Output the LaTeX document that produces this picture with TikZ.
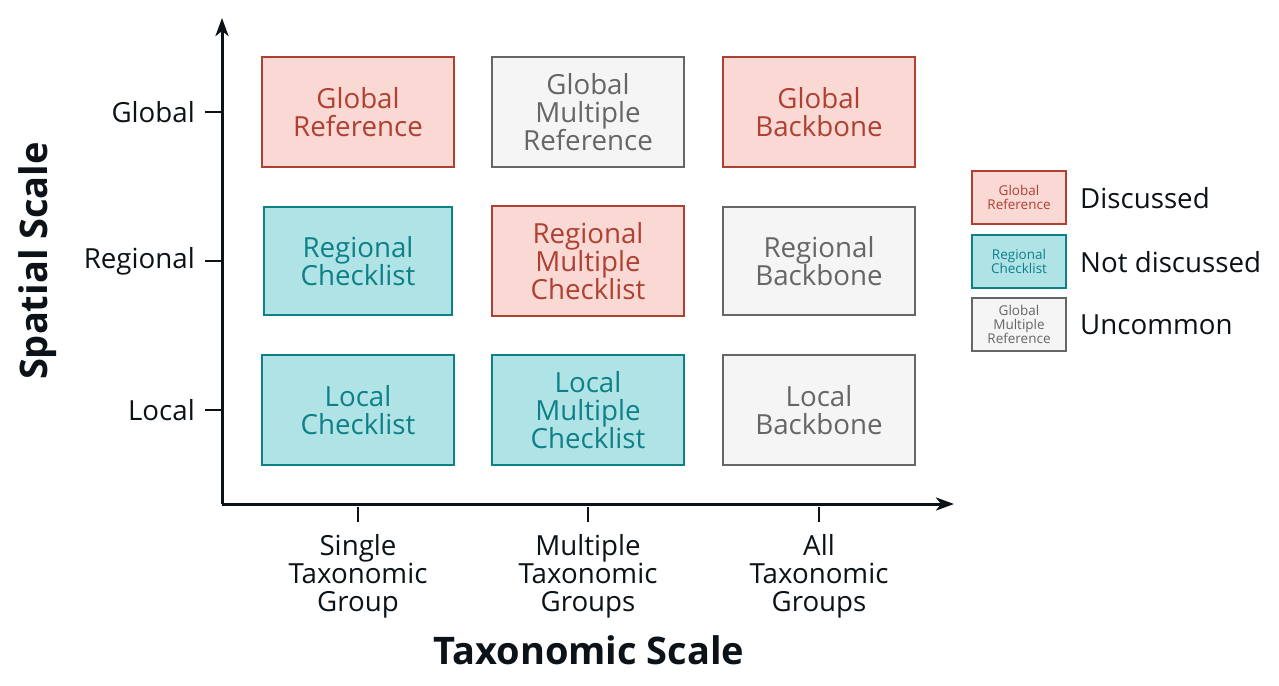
\documentclass[tikz,border=0pt]{standalone}
\usepackage{fontspec}
\setmainfont{Open Sans}
\usetikzlibrary{arrows.meta}
\definecolor{redfill}{HTML}{FAD9D5}
\definecolor{redline}{HTML}{AE4132}
\definecolor{tealfill}{HTML}{B0E3E6}
\definecolor{tealline}{HTML}{0E8088}
\definecolor{grayfill}{HTML}{F5F5F5}
\definecolor{grayline}{HTML}{666666}
\definecolor{ink}{HTML}{0B1218}
\tikzset{
  cell/.style={draw, line width=2pt, minimum width=192pt, minimum height=110pt, align=center,
    font=\fontsize{27.7}{28}\selectfont, inner sep=0pt},
  disc/.style={cell, fill=redfill, draw=redline, text=redline},
  notdisc/.style={cell, fill=tealfill, draw=tealline, text=tealline},
  uncommon/.style={cell, fill=grayfill, draw=grayline, text=grayline},
  legbox/.style={minimum width=94pt, minimum height=53pt, font=\fontsize{13.5}{14}\selectfont, line width=1.3pt},
  axislbl/.style={text=ink, font=\fontsize{27.7}{28}\selectfont, align=center, inner sep=0pt},
  axtitle/.style={text=ink, font=\fontsize{38}{40}\selectfont\bfseries, inner sep=0pt},
  axline/.style={draw=ink, line width=3pt, -{Stealth[length=18pt,width=13pt,inset=5pt]}},
  tick/.style={draw=ink, line width=2pt}
}
\begin{document}
\begin{tikzpicture}[x=1pt,y=-1pt]
\useasboundingbox (0,0) rectangle (1279,685);
% axes
\coordinate (O) at (222,504);
\coordinate (ytip) at (222,18);
\coordinate (xtip) at (954,504);
\draw[axline] (O) -- (ytip);
\draw[axline] (O) -- (xtip);
% cells
\node[disc] (gr) at (358,112) {Global\\Reference};
\node[uncommon] (gmr) at (588,112) {Global\\Multiple\\Reference};
\node[disc] (gb) at (819,112) {Global\\Backbone};
\node[notdisc, minimum width=188pt, minimum height=108pt] (rc) at (358,261) {Regional\\Checklist};
\node[disc] (rmc) at (588,261) {Regional\\Multiple\\Checklist};
\node[uncommon, minimum height=108pt] (rb) at (819,261) {Regional\\Backbone};
\node[notdisc] (lc) at (358,410) {Local\\Checklist};
\node[notdisc] (lmc) at (588,410) {Local\\Multiple\\Checklist};
\node[uncommon] (lb) at (819,410) {Local\\Backbone};
% y ticks
\foreach \n/\y/\t in {yg/112/Global, yr/261/Regional, yl/410/Local}{
  \coordinate (\n a) at (205,\y);
  \coordinate (\n b) at (222,\y);
  \draw[tick] (\n a) -- (\n b);
  \node[axislbl, anchor=east] (\n l) at (195,\y) {\t};
}
% x ticks
\foreach \n/\x/\t in {xs/358/{Single\\Taxonomic\\Group}, xm/588/{Multiple\\Taxonomic\\Groups}, xa/819/{All\\Taxonomic\\Groups}}{
  \coordinate (\n a) at (\x,507);
  \coordinate (\n b) at (\x,522);
  \draw[tick] (\n a) -- (\n b);
  \node[axislbl] (\n l) at (\x,576) {\t};
}
% titles
\node[axtitle] (xt) at (589,650) {Taxonomic Scale};
\node[axtitle, rotate=90] (yt) at (38,261) {Spatial Scale};
% legend
\node[disc, legbox] (l1) at (1019,197.5) {Global\\Reference};
\node[notdisc, legbox] (l2) at (1019,261.5) {Regional\\Checklist};
\node[uncommon, legbox] (l3) at (1019,324.5) {Global\\Multiple\\Reference};
\node[axislbl, anchor=west] (t1) at (1080,198) {Discussed};
\node[axislbl, anchor=west] (t2) at (1080,262) {Not discussed};
\node[axislbl, anchor=west] (t3) at (1080,325) {Uncommon};
\end{tikzpicture}
\end{document}
